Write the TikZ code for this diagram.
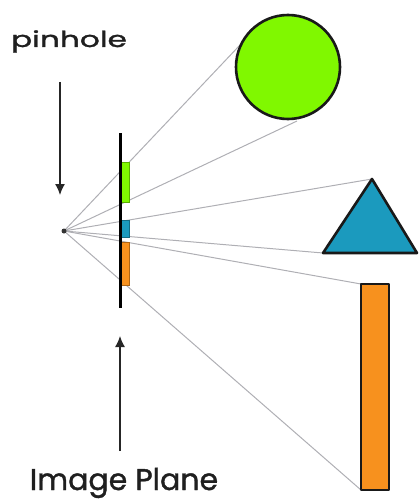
\documentclass[tikz,border=0pt]{standalone}
\usepackage{graphicx}
\usepackage{fontspec}
\setmainfont{Poppins}
\newfontfamily\medfont{Poppins}[FakeBold=1.2]
\usetikzlibrary{arrows.meta}
\definecolor{limeg}{RGB}{128,248,0}
\definecolor{tealb}{RGB}{27,154,190}
\definecolor{orng}{RGB}{247,145,30}
\definecolor{ray}{RGB}{175,175,180}
\begin{document}
\begin{tikzpicture}[x=1pt,y=-1pt,
  rayline/.style={draw=ray,line width=1pt},
  objedge/.style={draw=black!90,line width=2.6pt,line join=round},
  arr/.style={draw=black!85,line width=1.3pt,-{Latex[length=11pt,width=10pt]}},
  lbl/.style={text=black!88,inner sep=0pt,anchor=base}]
\useasboundingbox (0,0) rectangle (419,500);
% pinhole
\coordinate (P) at (64,231);
% object key points
\coordinate (C) at (288,67);
\coordinate (Ctop) at (240,45);
\coordinate (Cbot) at (297,121);
\coordinate (Tapex) at (372,179);
\coordinate (Tleft) at (323,253);
\coordinate (Tright) at (417,253);
\coordinate (Rtl) at (361,284);
\coordinate (Rbl) at (361,490);
% rays
\draw[rayline] (P) -- (Ctop);
\draw[rayline] (P) -- (Cbot);
\draw[rayline] (P) -- (Tapex);
\draw[rayline] (P) -- (Tleft);
\draw[rayline] (P) -- (Rtl);
\draw[rayline] (P) -- (Rbl);
% objects
\node[circle,minimum size=104pt,inner sep=0pt,fill=limeg,objedge] (circ) at (C) {};
\filldraw[fill=tealb,objedge] (Tapex) -- (Tleft) -- (Tright) -- cycle;
\filldraw[fill=orng,objedge] (Rtl) rectangle (389,490);
% images on plane
\filldraw[fill=limeg,draw=limeg!70!black,line width=0.6pt] (121,162) rectangle (129,202);
\filldraw[fill=tealb,draw=tealb!70!black,line width=0.6pt] (121,220) rectangle (129,237);
\filldraw[fill=orng,draw=orng!70!black,line width=0.6pt] (121,242) rectangle (129,285);
% image plane
\draw[black,line width=3pt] (120,133) -- (120,308);
% pinhole dot
\fill[black!80] (P) circle (2.5pt);
% labels and arrows
\node[lbl,font=\medfont\fontsize{22}{26}\selectfont] (ph) at (69,47) {\scalebox{1.42}[1]{pinhole}};
\coordinate (pa1) at (60,82);
\coordinate (pa2) at (60,195);
\draw[arr] (pa1) -- (pa2);
\node[lbl,font=\medfont\fontsize{30}{36}\selectfont] (ip) at (124,490) {Image Plane};
\coordinate (ia1) at (120,451);
\coordinate (ia2) at (120,336);
\draw[arr] (ia1) -- (ia2);
\end{tikzpicture}
\end{document}
